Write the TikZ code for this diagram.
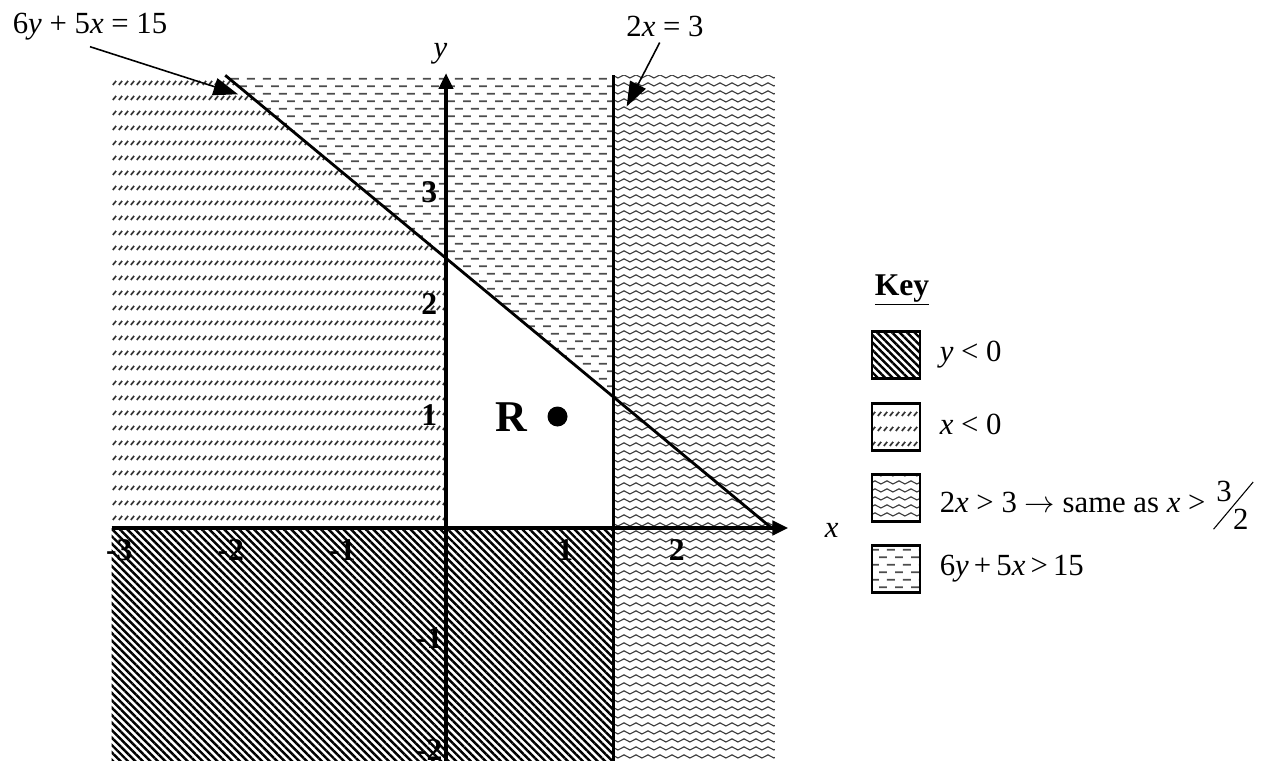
\documentclass[tikz,border=0pt]{standalone}
\usepackage{fontspec}
\setmainfont{Liberation Serif}
\usepackage{graphicx}
\usetikzlibrary{arrows.meta,positioning,patterns,patterns.meta}

% region fills
\pgfdeclarepatternformonly{xnegticks}{\pgfpointorigin}{\pgfqpoint{3.2pt}{8.5pt}}{\pgfqpoint{3.2pt}{8.5pt}}{%
  \pgfsetlinewidth{1pt}
  \pgfpathmoveto{\pgfqpoint{0.5pt}{0.6pt}}\pgfpathlineto{\pgfqpoint{2.5pt}{2.9pt}}
  \pgfusepath{stroke}}
\pgfdeclarepatternformonly{abovedashes}{\pgfpointorigin}{\pgfqpoint{9.1pt}{8.8pt}}{\pgfqpoint{9.1pt}{8.8pt}}{%
  \pgfsetlinewidth{1pt}
  \pgfpathmoveto{\pgfqpoint{0pt}{2.2pt}}\pgfpathlineto{\pgfqpoint{4.5pt}{2.2pt}}
  \pgfpathmoveto{\pgfqpoint{4.55pt}{6.6pt}}\pgfpathlineto{\pgfqpoint{9.05pt}{6.6pt}}
  \pgfusepath{stroke}}
\pgfdeclarepatternformonly{rightwaves}{\pgfpointorigin}{\pgfqpoint{6.8pt}{4.3pt}}{\pgfqpoint{6.8pt}{4.3pt}}{%
  \pgfsetlinewidth{0.7pt}
  \pgfpathmoveto{\pgfqpoint{0pt}{2.15pt}}
  \pgfpathcurveto{\pgfqpoint{1.1pt}{3.4pt}}{\pgfqpoint{2.3pt}{3.4pt}}{\pgfqpoint{3.4pt}{2.15pt}}
  \pgfpathcurveto{\pgfqpoint{4.5pt}{0.9pt}}{\pgfqpoint{5.7pt}{0.9pt}}{\pgfqpoint{6.8pt}{2.15pt}}
  \pgfusepath{stroke}}

\newcommand{\slashfrac}[2]{\rlap{\raisebox{-0.55em}{\rotatebox{50}{\rule{2em}{0.035em}}}}\kern0.1em\raisebox{0.35em}{#1}\kern0.05em\raisebox{-0.55em}{#2}}

\begin{document}
\begin{tikzpicture}[>={Triangle[length=9pt,width=8pt]},
  every node/.style={font=\fontsize{17.5}{20}\selectfont},
  axis/.style={->,line width=2.2pt},
  bound/.style={line width=1.6pt},
  tick/.style={font=\fontsize{18}{20}\selectfont\bfseries},
  pointer/.style={-{Triangle[length=14pt,width=10pt]},line width=0.9pt},
  stripes/.style={pattern={Lines[angle=-45,distance=3pt,line width=1.4pt]}},
  keybox/.style={draw,line width=1.2pt,minimum width=0.96cm,minimum height=0.94cm,inner sep=0pt}]
\useasboundingbox (0,0) rectangle (25.22,15.2);
\begin{scope}[shift={(8.92,4.64)},x=2.23cm,y=2.23cm]
% shaded regions
\fill[stripes] (-3,-2.1) rectangle (1.5,0);
\fill[pattern=xnegticks,pattern color=black!80] (-3,0.03) -- (-3,4.06) -- (-1.98,4.06) -- (0,2.42) -- (0,0.03) -- cycle;
\fill[pattern=abovedashes,pattern color=black!70] (-1.98,4.06) -- (1.5,4.06) -- (1.5,1.18) -- cycle;
\fill[pattern=rightwaves,pattern color=black!75] (1.5,-2.1) rectangle (2.95,4.06);
% boundary lines and axes
\draw[bound] (1.5,-2.1) -- (1.5,4.06);
\draw[bound] (-1.98,4.06) -- (2.92,0);
\draw[axis] (-3,0) -- (3.07,0);
\draw[axis] (0,-2.1) -- (0,4.08);
\node (xlab) at (3.46,-0.02) {\textit{x}};
\node (ylab) at (-0.05,4.25) {\textit{y}};
\foreach \n in {-3,-2,-1,1,2} \node[tick] at (\n+0.07,-0.2) {\n};
\foreach \n in {-2,-1,1,2,3} \node[tick] at (-0.15,\n+0.01) {\n};
\node[font=\fontsize{25}{28}\selectfont\bfseries] (R) at (0.59,0.99) {R};
\fill (1,1) circle (0.2cm);
\coordinate (tipA) at (-1.865,3.89);
\coordinate (tipB) at (1.62,3.78);
\end{scope}
% line labels
\node (labA) at (1.8,14.66) {6\textit{y} + 5\textit{x} = 15};
\node (labB) at (13.3,14.68) {2\textit{x} = 3};
\draw[pointer] (labA.south) -- (tipA);
\draw[pointer] ([xshift=-3pt]labB.south) -- (tipB);
% key
\node[font=\fontsize{18}{20}\selectfont\bfseries] (key) at (18.04,9.4) {\underline{Key}};
\node[keybox,stripes] (keyY) at (17.92,8.1) {};
\node[keybox,pattern=xnegticks,pattern color=black!80] (keyX) at (17.92,6.66) {};
\node[keybox,pattern=rightwaves,pattern color=black!75] (keyW) at (17.92,5.24) {};
\node[keybox,pattern=abovedashes,pattern color=black!70] (keyD) at (17.92,3.82) {};
\node[right=0.25cm of keyY] (txtY) {\textit{y} < 0};
\node[right=0.25cm of keyX,yshift=0.05cm] (txtX) {\textit{x} < 0};
\node[right=0.25cm of keyW,yshift=-0.15cm] (txtW) {2\textit{x} > 3 $\rightarrow$ same as \textit{x} > \slashfrac{3}{2}};
\node[right=0.25cm of keyD] (txtD) {6\textit{y}\,+\,5\textit{x}\,>\,15};
\end{tikzpicture}
\end{document}
